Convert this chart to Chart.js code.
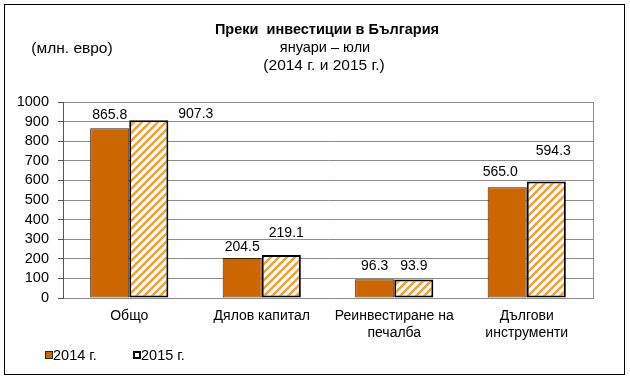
<!DOCTYPE html>
<html><head><meta charset="utf-8">
<script src="https://cdn.jsdelivr.net/npm/chart.js@4/dist/chart.umd.min.js"></script>
<style>html,body{margin:0;padding:0;background:#fff}#wrap{width:630px;height:379px;position:relative}</style>
</head><body><div id="wrap"><canvas id="c" width="630" height="379"></canvas></div>
<script>
const categories = ['Общо', 'Дялов капитал', ['Реинвестиране на', 'печалба'], ['Дългови', 'инструменти']];
const series2014 = [865.8, 204.5, 96.3, 565.0];
const series2015 = [907.3, 219.1, 93.9, 594.3];
const seriesNames = ['2014 г.', '2015 г.'];
const titleLines = ['Преки  инвестиции в България', 'януари – юли', '(2014 г. и 2015 г.)'];
const unitLabel = '(млн. евро)';
const yMin = 0, yMax = 1000, yStep = 100;

const FONT = '"Liberation Sans", Arial, sans-serif';
const ORANGE = '#CC6600';
const STRIPE = '#F5A030';

function makeHatch() {
  const s = 8;
  const p = document.createElement('canvas');
  p.width = s; p.height = s;
  const g = p.getContext('2d');
  g.fillStyle = '#fff'; g.fillRect(0, 0, s, s);
  g.strokeStyle = STRIPE; g.lineWidth = 2.6;
  g.beginPath();
  g.moveTo(0, s); g.lineTo(s, 0);
  g.moveTo(-s/2, s/2); g.lineTo(s/2, -s/2);
  g.moveTo(s/2, s + s/2); g.lineTo(s + s/2, s/2);
  g.stroke();
  return g.createPattern(p, 'repeat');
}
const hatch = makeHatch();

// label offsets [dx, gapAbove] per dataset per category
const labelOffsets = [
  [[0, 13], [0, 11], [0, 13], [-7, 15]],
  [[47, 6], [5, 22], [0, 13], [7, 30]]
];

const decor = {
  id: 'decor',
  beforeDraw(chart) {
    const ctx = chart.ctx;
    ctx.save();
    ctx.fillStyle = '#fff';
    ctx.fillRect(0, 0, chart.width, chart.height);
    ctx.restore();
  },
  afterDatasetsDraw(chart) {
    const ctx = chart.ctx;
    const a = chart.chartArea;
    ctx.save();
    // plot area right border
    ctx.strokeStyle = '#8c8c8c'; ctx.lineWidth = 1;
    ctx.beginPath(); ctx.moveTo(Math.round(a.right) + 0.5, a.top); ctx.lineTo(Math.round(a.right) + 0.5, a.bottom); ctx.stroke();
    // data labels
    ctx.fillStyle = '#000';
    ctx.font = '14px ' + FONT;
    ctx.textAlign = 'center'; ctx.textBaseline = 'bottom';
    chart.data.datasets.forEach((ds, di) => {
      const meta = chart.getDatasetMeta(di);
      meta.data.forEach((bar, i) => {
        const off = labelOffsets[di][i];
        ctx.fillText(ds.data[i].toFixed(1), bar.x + off[0], bar.y - off[1] + 7);
      });
    });
    // title
    ctx.textBaseline = 'middle';
    ctx.font = 'bold 14.5px ' + FONT;
    ctx.fillText(titleLines[0], 327, 30);
    ctx.font = '14.5px ' + FONT;
    ctx.fillText(titleLines[1], 325, 48);
    ctx.font = '15.5px ' + FONT;
    ctx.fillText(titleLines[2], 324, 66);
    ctx.font = '15.5px ' + FONT;
    ctx.fillText(unitLabel, 72, 49);
    // legend
    ctx.textAlign = 'left';
    ctx.font = '14.5px ' + FONT;
    const lx = [45, 133];
    chart.data.datasets.forEach((ds, di) => {
      const x = lx[di], y = 351;
      if (di === 0) {
        ctx.fillStyle = ORANGE; ctx.fillRect(x, y, 8, 8);
        ctx.strokeStyle = '#3a2000'; ctx.lineWidth = 1; ctx.strokeRect(x + 0.5, y + 0.5, 7, 7);
      } else {
        ctx.fillStyle = '#fff'; ctx.fillRect(x, y, 8, 8);
        ctx.strokeStyle = '#000'; ctx.lineWidth = 2; ctx.strokeRect(x + 1, y + 1, 6, 6);
      }
      ctx.fillStyle = '#000';
      ctx.fillText(ds.label, x + 8, y + 4.5);
    });
    // outer frame
    ctx.strokeStyle = '#000'; ctx.lineWidth = 1;
    ctx.strokeRect(4.5, 4.5, 620, 370);
    ctx.restore();
  }
};

new Chart(document.getElementById('c'), {
  type: 'bar',
  data: {
    labels: categories,
    datasets: [
      { label: seriesNames[0], data: series2014, backgroundColor: ORANGE, borderColor: '#3a2000', borderWidth: 1, borderSkipped: false },
      { label: seriesNames[1], data: series2015, backgroundColor: hatch, borderColor: '#000', borderWidth: 2, borderSkipped: false }
    ]
  },
  options: {
    responsive: false,
    animation: false,
    devicePixelRatio: 1,
    layout: { padding: { left: 8, top: 102, right: 37, bottom: 31 } },
    plugins: { legend: { display: false }, title: { display: false }, tooltip: { enabled: false } },
    datasets: { bar: { categoryPercentage: 0.59, barPercentage: 1 } },
    scales: {
      x: {
        grid: { display: false, drawTicks: false },
        border: { display: true, color: '#8c8c8c' },
        ticks: { color: '#000', font: { family: FONT, size: 14 }, padding: 10, maxRotation: 0, autoSkip: false },
        afterFit(axis) { axis.height = 50; }
      },
      y: {
        min: yMin, max: yMax,
        grid: { color: '#8c8c8c', tickLength: 5, drawTicks: true, tickColor: '#555' },
        border: { display: true, color: '#555' },
        ticks: { stepSize: yStep, autoSkip: false, color: '#000', font: { family: FONT, size: 14.5 }, padding: 9,
                 callback: (v) => String(v) },
        afterFit(axis) { axis.width = 55; }
      }
    }
  },
  plugins: [decor]
});
</script></body></html>
